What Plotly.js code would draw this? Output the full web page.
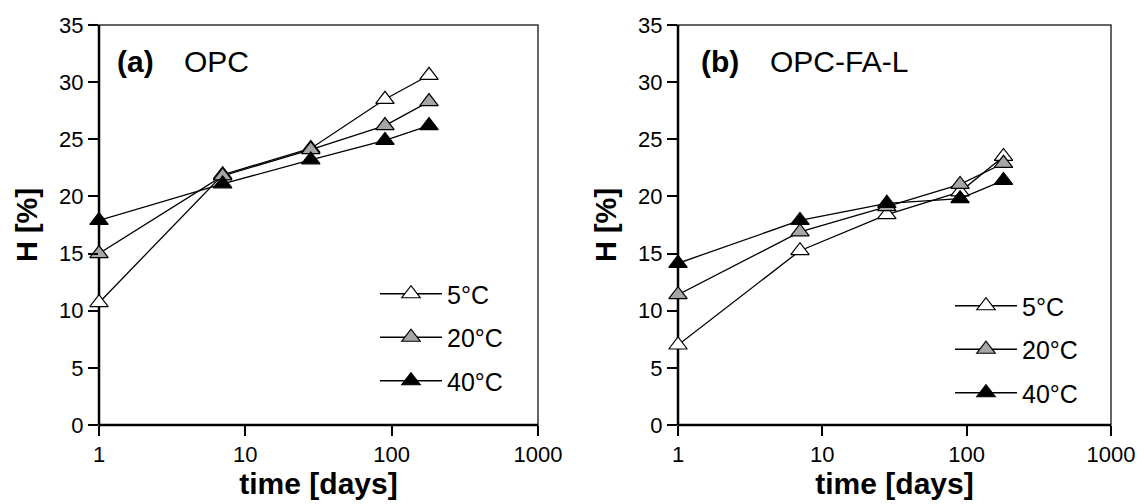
<!DOCTYPE html>
<html>
<head>
<meta charset="utf-8">
<script src="https://cdn.plot.ly/plotly-3.0.1.min.js"></script>
<style>html,body{margin:0;padding:0;background:#fff}#chart{width:1145px;height:504px}</style>
</head>
<body>
<div id="chart"></div>
<script>
// Data
const days = [1, 7, 28, 90, 180];
const seriesNames = ['5°C', '20°C', '40°C'];
const opc_5 = [10.7, 21.9, 24.2, 28.5, 30.6];
const opc_20 = [15.0, 21.8, 24.1, 26.2, 28.3];
const opc_40 = [17.9, 21.1, 23.2, 24.9, 26.2];
const fal_5 = [7.0, 15.25, 18.4, 20.4, 23.5];
const fal_20 = [11.4, 16.9, 19.1, 21.05, 22.9];
const fal_40 = [14.15, 17.9, 19.4, 19.8, 21.4];
const xTickVals = [1, 10, 100, 1000];
const xTickText = ['1', '10', '100', '1000'];

const fills = ['#ffffff', '#a6a6a6', '#000000'];
const FONT = 'Liberation Sans, Arial, sans-serif';

function mk(y, i, xa, ya, leg) {
  return {
    x: days, y: y, type: 'scatter', mode: 'lines+markers',
    name: seriesNames[i], xaxis: xa, yaxis: ya, legend: leg,
    legendgroup: leg + i, cliponaxis: false,
    line: {color: '#000', width: 1.3},
    marker: {symbol: 'triangle-up', size: 16, color: fills[i], line: {color: '#000', width: 1.2}},
    hoverinfo: 'x+y'
  };
}

const traces = [
  mk(opc_5, 0, 'x', 'y', 'legend'),
  mk(opc_20, 1, 'x', 'y', 'legend'),
  mk(opc_40, 2, 'x', 'y', 'legend'),
  mk(fal_5, 0, 'x2', 'y2', 'legend2'),
  mk(fal_20, 1, 'x2', 'y2', 'legend2'),
  mk(fal_40, 2, 'x2', 'y2', 'legend2')
];

const W = 1145, H = 504;
const yDom = [(H - 425) / H, (H - 25) / H];

function xax(dom) {
  return {
    domain: dom, type: 'log', range: [0, 3],
    tickvals: xTickVals, ticktext: xTickText,
    ticks: 'outside', ticklen: 10, tickwidth: 2, tickcolor: '#000',
    showgrid: false, zeroline: false, showline: false,
    tickfont: {family: FONT, size: 22, color: '#000'},
    title: {text: '<b>time [days]</b>', font: {family: FONT, size: 30, color: '#000'}, standoff: 3}
  };
}
function yax(anchor) {
  return {
    domain: yDom, range: [0, 35], dtick: 5, anchor: anchor,
    ticks: 'outside', ticklen: 10, tickwidth: 2, tickcolor: '#000',
    showgrid: false, zeroline: false, showline: false,
    tickfont: {family: FONT, size: 22, color: '#000'},
    title: {text: '<b>H [%]</b>', font: {family: FONT, size: 29, color: '#000'}, standoff: 12}
  };
}

function frame(xr, yr) {
  return [
    {type: 'rect', xref: xr + ' domain', yref: yr + ' domain', x0: 0, x1: 1, y0: 0, y1: 1,
     line: {color: '#333', width: 1.5}, layer: 'below'},
    {type: 'line', xref: xr + ' domain', yref: yr + ' domain', x0: 0, x1: 0, y0: 0, y1: 1,
     line: {color: '#000', width: 2.5}, layer: 'below'},
    {type: 'line', xref: xr + ' domain', yref: yr + ' domain', x0: 0, x1: 1, y0: 0, y1: 0,
     line: {color: '#000', width: 2.5}, layer: 'below'}
  ];
}

function legendCfg(x, y) {
  return {
    x: x, y: y, xanchor: 'left', yanchor: 'top', xref: 'paper', yref: 'paper',
    bgcolor: 'rgba(0,0,0,0)', borderwidth: 0,
    font: {family: FONT, size: 25, color: '#000'},
    traceorder: 'grouped', tracegroupgap: 8, itemwidth: 62
  };
}

const layout = {
  width: W, height: H,
  margin: {l: 0, r: 0, t: 0, b: 0},
  paper_bgcolor: '#fff', plot_bgcolor: '#fff',
  font: {family: FONT, color: '#000'},
  xaxis: xax([99 / W, 538 / W]),
  yaxis: yax('x'),
  xaxis2: Object.assign(xax([678 / W, 1111 / W]), {anchor: 'y2'}),
  yaxis2: yax('x2'),
  showlegend: true,
  legend: legendCfg(375 / W, (H - 271) / H),
  legend2: legendCfg(950 / W, (H - 283) / H),
  shapes: [].concat(frame('x', 'y'), frame('x2', 'y2')),
  annotations: [
    {xref: 'x domain', yref: 'y domain', x: 0.036, y: 0.9085, xanchor: 'left', yanchor: 'middle', showarrow: false,
     text: '<b>(a)</b>', font: {family: FONT, size: 30, color: '#000'}},
    {xref: 'x domain', yref: 'y domain', x: 0.19, y: 0.9085, xanchor: 'left', yanchor: 'middle', showarrow: false,
     text: 'OPC', font: {family: FONT, size: 30, color: '#000'}},
    {xref: 'x2 domain', yref: 'y2 domain', x: 0.048, y: 0.9085, xanchor: 'left', yanchor: 'middle', showarrow: false,
     text: '<b>(b)</b>', font: {family: FONT, size: 30, color: '#000'}},
    {xref: 'x2 domain', yref: 'y2 domain', x: 0.207, y: 0.9085, xanchor: 'left', yanchor: 'middle', showarrow: false,
     text: 'OPC-FA-L', font: {family: FONT, size: 30, color: '#000'}}
  ]
};

Plotly.newPlot('chart', traces, layout, {displayModeBar: false, responsive: false});
</script>
</body>
</html>
